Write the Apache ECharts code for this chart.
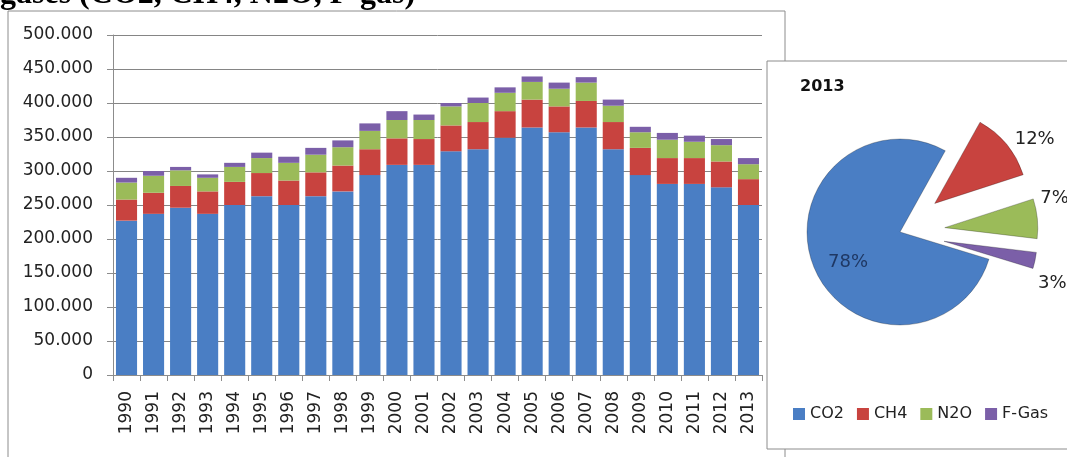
<!DOCTYPE html>
<html>
<head>
<meta charset="utf-8">
<script src="https://cdn.jsdelivr.net/npm/echarts@6/dist/echarts.min.js"></script>
<style>
  html, body { margin: 0; padding: 0; background: #fff; }
  #chart { width: 1067px; height: 457px; }
</style>
</head>
<body>
<div id="chart"></div>
<script>
// emissions in thousand t CO2-eq
const years = ['1990','1991','1992','1993','1994','1995','1996','1997','1998','1999','2000','2001',
  '2002','2003','2004','2005','2006','2007','2008','2009','2010','2011','2012','2013']
const co2  = [227,237,246,237,250,263,250,263,270,294,309,309,329,332,349,364,357,364,332,294,281,281,276,250]
const ch4  = [31,31,32,33,34,34,36,35,38,38,39,38,38,40,39,41,38,39,40,40,38,38,38,38]
const n2o  = [25,25,23,20,22,22,26,26,27,27,27,28,28,28,27,26,26,27,24,23,27,24,24,22]
const fgas = [7,7,5,5,6,8,9,10,10,11,13,8,5,8,8,8,9,8,9,8,10,9,9,9]
const gasNames = ['CO2', 'CH4', 'N2O', 'F-Gas']
const colors = ['#4A7EC4', '#C8433F', '#9BBB59', '#7B5FA8']
const yTicks = { min: 0, max: 500, step: 50 }

const FONT = 'DejaVu Sans'
const chart = echarts.init(document.getElementById('chart'))

const last = years.length - 1
const pieValues = [co2[last], ch4[last], n2o[last], fgas[last]]
const pieTotal = pieValues.reduce((a, b) => a + b, 0)
// nudge the pie labels like the original
const pieLabelOffsets = [[-6, 12], [0, -2], [-6, -20], [-6, 22]]

const barSeries = [co2, ch4, n2o, fgas].map((d, i) => ({
  name: gasNames[i],
  type: 'bar',
  stack: 'total',
  barCategoryGap: '22%',
  itemStyle: { color: colors[i] },
  data: d
}))

const option = {
  animation: false,
  textStyle: { fontFamily: FONT },
  graphic: [
    { type: 'rect', shape: { x: 8, y: 11, width: 777, height: 460 },
      style: { fill: '#fff', stroke: '#8c8c8c', lineWidth: 1 }, z: -10 },
    { type: 'rect', shape: { x: 767, y: 61, width: 310, height: 388 },
      style: { fill: '#fff', stroke: '#8c8c8c', lineWidth: 1 }, z: 5 },
    { type: 'text', left: 0, top: -21, z: 6,
      style: { text: 'gases (CO2, CH4, N2O, F-gas)', font: 'bold 32px "Liberation Serif"', fill: '#000' } },
    { type: 'text', left: 800, top: 79, z: 6,
      style: { text: '2013', font: 'bold 16px "DejaVu Sans"', fill: '#111' } }
  ],
  legend: {
    data: gasNames,
    left: 788,
    top: 401,
    itemWidth: 12,
    itemHeight: 12,
    itemGap: 13,
    icon: 'rect',
    z: 10,
    textStyle: { fontFamily: FONT, fontSize: 16, color: '#222' }
  },
  grid: { left: 113, right: 305, top: 35, bottom: 82 },
  xAxis: {
    type: 'category',
    data: years,
    axisLine: { lineStyle: { color: '#8c8c8c' } },
    axisTick: { show: true, interval: 0, length: 6, lineStyle: { color: '#8c8c8c' } },
    axisLabel: { rotate: 90, interval: 0, margin: 16, fontSize: 17, color: '#222', fontFamily: FONT }
  },
  yAxis: {
    type: 'value',
    min: yTicks.min,
    max: yTicks.max,
    interval: yTicks.step,
    axisLine: { show: true, lineStyle: { color: '#8c8c8c' } },
    axisTick: { show: true, length: 6, lineStyle: { color: '#8c8c8c' } },
    splitLine: { lineStyle: { color: '#858585' } },
    axisLabel: {
      fontSize: 17, color: '#222', fontFamily: FONT, margin: 20,
      formatter: v => v === 0 ? '0' : v + '.000'
    }
  },
  series: [
    ...barSeries,
    {
      name: '2013',
      type: 'pie',
      center: [900, 232],
      radius: 93,
      startAngle: 343,
      z: 10,
      selectedMode: 'multiple',
      selectedOffset: 45,
      emphasis: { disabled: true },
      labelLine: { show: false, length: 4, length2: 0 },
      labelLayout: p => ({ dx: pieLabelOffsets[p.dataIndex][0], dy: pieLabelOffsets[p.dataIndex][1] }),
      label: {
        fontFamily: FONT, fontSize: 18, color: '#222',
        formatter: p => Math.round(p.value / pieTotal * 100) + '%'
      },
      data: pieValues.map((v, i) => ({
        name: gasNames[i],
        value: v,
        selected: i > 0,
        itemStyle: { color: colors[i], borderColor: 'rgba(0,0,0,0.25)', borderWidth: 1 },
        label: i === 0
          ? { position: 'inside', color: '#1F3864' }
          : { position: 'outside' }
      }))
    }
  ]
}

chart.setOption(option)
window.addEventListener('resize', () => chart.resize())
</script>
</body>
</html>
